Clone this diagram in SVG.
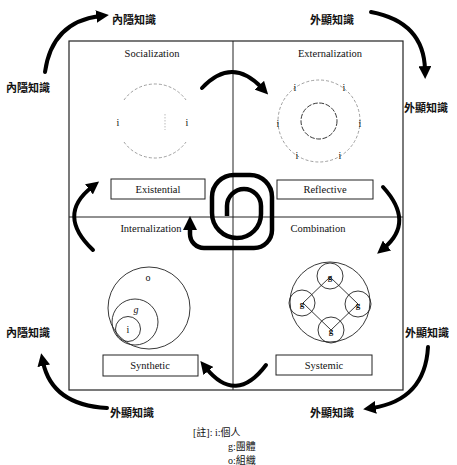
<svg xmlns="http://www.w3.org/2000/svg" width="457" height="465" viewBox="0 0 457 465">
<style>
.frame{fill:none;stroke:#222;stroke-width:1.2}
.div{fill:none;stroke:#222;stroke-width:1}
.box{fill:#fff;stroke:#222;stroke-width:1}
.title{font-family:"Liberation Serif",serif;font-size:10.5px;fill:#111;text-anchor:middle}
.btext{font-family:"Liberation Serif",serif;font-size:10.5px;fill:#111;text-anchor:middle}
.cjk{font-family:"Noto Sans CJK TC",sans-serif;font-size:11px;font-weight:bold;fill:#111}
.leg{font-family:"Liberation Serif","Noto Sans CJK TC",sans-serif;font-size:10px;fill:#111}
.arr{fill:none;stroke:#000;stroke-width:4;stroke-linecap:round}
.spiral{fill:none;stroke:#000;stroke-width:4.5;stroke-linecap:butt}
.faint{fill:none;stroke:#888;stroke-width:0.8;stroke-dasharray:3 2}
.thin{fill:none;stroke:#222;stroke-width:0.9}
.letter{font-family:"Liberation Serif",serif;font-size:10px;fill:#111;text-anchor:middle}
.gl{font-family:"Liberation Serif",serif;font-size:9px;font-weight:bold;fill:#111;text-anchor:middle}
</style>
<defs>
<marker id="ah" viewBox="0 0 10 10" refX="3" refY="5" markerWidth="3.2" markerHeight="3.2" orient="auto">
<path d="M0,0 L10,5 L0,10 z" fill="#000"/>
</marker>
</defs>
<rect width="457" height="465" fill="#fff"/>

<g id="frame">
<rect class="frame" x="69" y="41" width="334" height="349"/>
<line class="div" x1="233" y1="41" x2="233" y2="390"/>
<line class="div" x1="69" y1="217" x2="403" y2="217"/>
</g>

<g id="socialization">
<text class="title" x="152" y="57">Socialization</text>
<path class="faint" d="M124,100 A38,38 0 0 1 186,100"/>
<path class="faint" d="M124,142 A38,38 0 0 0 186,142"/>
<line x1="165" y1="114" x2="165" y2="130" stroke="#aaa" stroke-width="0.8" stroke-dasharray="1.5 1.5"/>
<text class="letter" x="118" y="126">i</text>
<text class="letter" x="187" y="126">i</text>
<rect class="box" x="111" y="179" width="94" height="20"/>
<text class="btext" x="158" y="193">Existential</text>
</g>

<g id="externalization">
<text class="title" x="330" y="57">Externalization</text>
<circle class="faint" cx="319" cy="121" r="41" stroke="#bbb" stroke-dasharray="1.5 5"/>
<circle class="thin" cx="319" cy="121" r="18" stroke="#555" stroke-dasharray="5 1.5"/>
<text class="letter" x="295" y="91">i</text>
<text class="letter" x="344" y="91">i</text>
<text class="letter" x="278" y="127">i</text>
<text class="letter" x="360" y="127">i</text>
<text class="letter" x="297" y="159">i</text>
<text class="letter" x="340" y="159">i</text>
<rect class="box" x="277" y="180" width="96" height="19"/>
<text class="btext" x="325" y="193">Reflective</text>
</g>

<g id="internalization">
<text class="title" x="151" y="232">Internalization</text>
<circle class="thin" cx="149" cy="308" r="41"/>
<circle class="thin" cx="135" cy="322" r="23"/>
<circle class="thin" cx="128" cy="329" r="12.5"/>
<text class="letter" x="148" y="281">o</text>
<text class="letter" x="136" y="313" font-style="italic">g</text>
<text class="letter" x="128" y="333">i</text>
<rect class="box" x="103" y="355" width="95" height="21"/>
<text class="btext" x="150" y="369">Synthetic</text>
</g>

<g id="combination">
<text class="title" x="318" y="232">Combination</text>
<circle class="thin" cx="330" cy="302" r="40"/>
<path class="thin" d="M330,277 L303,303 L331,330 L358,304 Z" stroke-width="0.6"/>
<circle class="thin" cx="330" cy="276" r="13" fill="#fff"/>
<circle class="thin" cx="302" cy="303" r="13" fill="#fff"/>
<circle class="thin" cx="358" cy="304" r="13" fill="#fff"/>
<circle class="thin" cx="331" cy="330" r="13" fill="#fff"/>
<text class="gl" x="330" y="280">g</text>
<text class="gl" x="302" y="307">g</text>
<text class="gl" x="358" y="308">g</text>
<text class="gl" x="331" y="334">g</text>
<rect class="box" x="276" y="355" width="96" height="20"/>
<text class="btext" x="324" y="369">Systemic</text>
</g>

<g id="labels">
<text class="cjk" x="112" y="24">內隱知識</text>
<text class="cjk" x="6" y="92">內隱知識</text>
<text class="cjk" x="310" y="24">外顯知識</text>
<text class="cjk" x="404" y="112">外顯知識</text>
<text class="cjk" x="405" y="337">外顯知識</text>
<text class="cjk" x="310" y="417">外顯知識</text>
<text class="cjk" x="110" y="417">外顯知識</text>
<text class="cjk" x="6" y="337">內隱知識</text>
</g>

<g id="legend">
<text class="leg" x="193" y="436">[註]: i:個人</text>
<text class="leg" x="228" y="450">g:團體</text>
<text class="leg" x="228" y="464">o:組織</text>
</g>

<g id="connectors">
<path class="arr" marker-end="url(#ah)" d="M45,72 Q52,22 100,16"/>
<path class="arr" marker-end="url(#ah)" d="M371,12 Q424,22 425,70"/>
<path class="arr" marker-end="url(#ah)" d="M202,88 Q232,56 262,88"/>
<path class="arr" marker-end="url(#ah)" d="M383,187 Q415,222 384,248"/>
<path class="arr" marker-end="url(#ah)" d="M93,250 Q56,215 92,187"/>
<path class="arr" marker-end="url(#ah)" d="M266,365 Q236,405 206,368"/>
<path class="arr" marker-end="url(#ah)" d="M428,347 Q425,400 372,408"/>
<path class="arr" marker-end="url(#ah)" d="M107,408 Q52,405 43,362"/>
<path class="spiral" marker-end="url(#ah)" d="M227,216 V206 A17,17 0 0 1 261,206 V214 A24,24 0 0 1 237,238 A25,25 0 0 1 212,213 V197 A22,22 0 0 1 234,175 H250 A22,22 0 0 1 272,197 V230 A18,18 0 0 1 254,248 H204 A14,14 0 0 1 190,234 V226"/>
</g>
</svg>
